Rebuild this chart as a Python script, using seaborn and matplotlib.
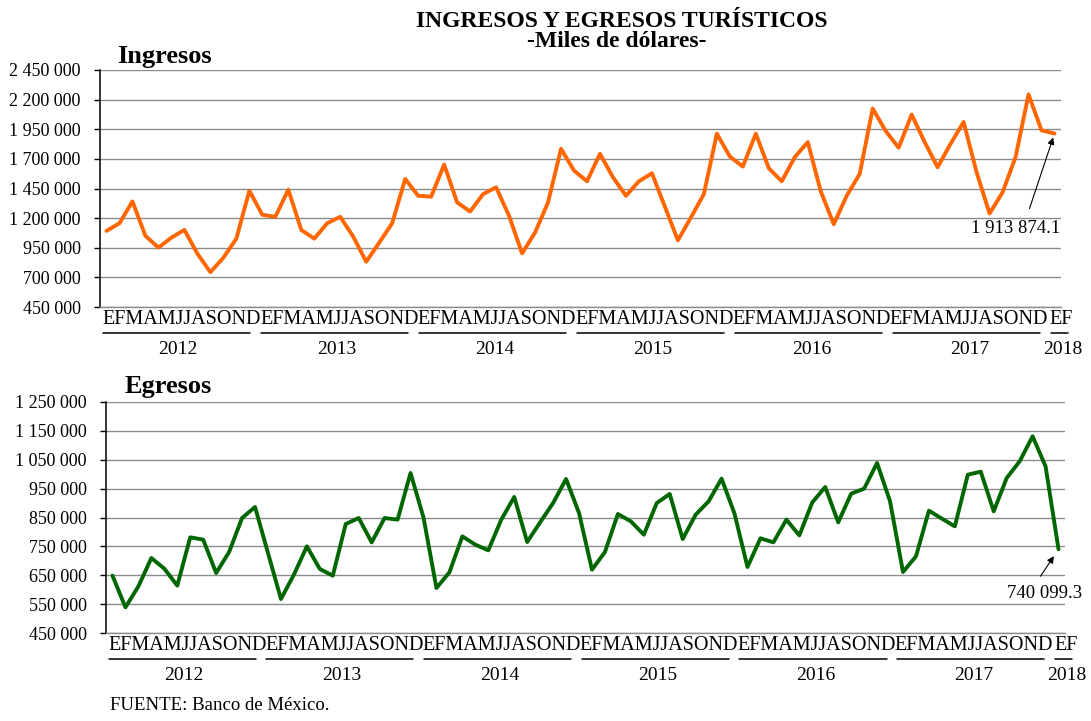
import seaborn as sns
import matplotlib.pyplot as plt
from matplotlib.ticker import FuncFormatter
from matplotlib.transforms import offset_copy, ScaledTranslation

years = ['2012', '2013', '2014', '2015', '2016', '2017', '2018']
month_letters = 'EFMAMJJASOND'

ingresos = [1092000, 1157000, 1341000, 1050000, 951000, 1035500, 1100500, 900000, 744000, 866000, 1027000, 1431500,
            1228000, 1211000, 1440000, 1100500, 1027000, 1157000, 1211000, 1044000, 832000, 993000, 1157000, 1530500,
            1389000, 1381000, 1652000, 1332500, 1256000, 1403000, 1460000, 1219000, 902500, 1078000, 1332500, 1785000,
            1601000, 1511000, 1743000, 1545000, 1389000, 1511000, 1579000, 1296000, 1013000, 1205000, 1403000, 1912500,
            1720000, 1635000, 1912500, 1621000, 1511000, 1714500, 1842000, 1426000, 1148700, 1389000, 1573000, 2124700,
            1935000, 1794000, 2074000, 1842000, 1629600, 1827600, 2011500, 1587000, 1239000, 1417400, 1714500, 2243500,
            1940800, 1913874.1]

egresos = [648600, 538900, 611600, 709700, 672800, 614000, 781300, 773200, 657800, 730500, 848300, 886400,
           727000, 567700, 652000, 750100, 671600, 648600, 827500, 848300, 764000, 848300, 842500, 1004100,
           850000, 605800, 660100, 784800, 755900, 736300, 842500, 921000, 765200, 833300, 900200, 983300,
           865600, 669300, 730500, 862100, 836700, 790500, 900200, 931400, 775500, 859800, 906000, 984500,
           863300, 678600, 777900, 764000, 842500, 788200, 902500, 955600, 833300, 932500, 949900, 1038700,
           906000, 661300, 715500, 873700, 846000, 819400, 998300, 1008700, 871400, 986800, 1044500, 1131100,
           1027200, 740099.3]

ticks_ing = list(range(450000, 2450001, 250000))
ticks_egr = list(range(450000, 1250001, 100000))

sns.set_style('white')
plt.rcParams['font.family'] = ['Liberation Serif', 'DejaVu Serif']
plt.rcParams['text.color'] = 'black'
plt.rcParams['xtick.color'] = 'black'
plt.rcParams['ytick.color'] = 'black'

fig = plt.figure(figsize=(10.91, 7.21), dpi=100)
W, H = 1091, 721


def px_axes(left, top, right, bottom):
    return fig.add_axes([left / W, 1 - bottom / H, (right - left) / W, (bottom - top) / H])


ax1 = px_axes(100, 70, 1061, 307)
ax2 = px_axes(106, 402, 1065, 633)

n = len(ingresos)
x = list(range(n))


def miles(v, pos):
    return '{:,.0f}'.format(v).replace(',', ' ')


def style_axis(ax, yticks, label_offset):
    ax.set_xlim(-0.5, n - 0.5)
    ax.set_ylim(yticks[0], yticks[-1])
    ax.set_yticks(yticks)
    ax.yaxis.set_major_formatter(FuncFormatter(miles))
    ax.grid(axis='y', color='#8c8c8c', lw=1.0)
    ax.set_axisbelow(True)
    for s in ['top', 'right']:
        ax.spines[s].set_visible(False)
    ax.spines['left'].set_color('black')
    ax.spines['left'].set_linewidth(1.1)
    ax.spines['bottom'].set_color('#8c8c8c')
    ax.spines['bottom'].set_linewidth(1.0)
    ax.tick_params(axis='y', direction='out', length=4, width=1, color='black',
                   labelsize=13, pad=10, left=True, labelcolor='black')
    ax.set_xlabel('')
    ax.set_ylabel('')

    # month letters, one block per year (the Excel labels drift a bit to the right)
    centers, labels = [], []
    for k, yr in enumerate(years):
        idx = [i for i in x if i // 12 == k]
        centers.append(sum(idx) / len(idx))
        labels.append(month_letters[:len(idx)])
        drift = 2.2 * k
        ln_tr = offset_copy(ax.get_xaxis_transform(), fig=fig, x=drift, y=-26, units='dots')
        ax.plot([idx[0] - 0.3, idx[-1] + 0.05], [0, 0],
                color='black', lw=1.1, transform=ln_tr, clip_on=False)
        ax.annotate(yr, xy=(centers[-1], 0), xycoords=('data', 'axes fraction'),
                    xytext=(2.5 * k, -label_offset), textcoords='offset pixels',
                    ha='center', va='center', fontsize=14)
    ax.set_xticks(centers)
    ax.set_xticklabels(labels, fontsize=14.5)
    ax.tick_params(axis='x', length=0, pad=2.5, labelcolor='black')
    for k, lab in enumerate(ax.get_xticklabels()):
        shift = 4 + 1.6 * k
        lab.set_transform(lab.get_transform() + ScaledTranslation(shift / 100, 0, fig.dpi_scale_trans))


sns.lineplot(x=x, y=ingresos, ax=ax1, color='#FF6600', lw=2.8)
style_axis(ax1, ticks_ing, 43)
ax1.annotate('', xy=(n - 1, ingresos[-1]), xytext=(-25, -75), textcoords='offset pixels',
             arrowprops=dict(arrowstyle='-|>', color='black', lw=0.8, mutation_scale=10,
                             shrinkA=0, shrinkB=3))
ax1.annotate('1 913 874.1', xy=(n - 1, ingresos[-1]), xytext=(6, -95), textcoords='offset pixels',
             ha='right', va='center', fontsize=13.5)

sns.lineplot(x=x, y=egresos, ax=ax2, color='#006600', lw=2.8)
style_axis(ax2, ticks_egr, 43)
ax2.annotate('', xy=(n - 1, egresos[-1]), xytext=(-18, -27), textcoords='offset pixels',
             arrowprops=dict(arrowstyle='-|>', color='black', lw=0.8, mutation_scale=10,
                             shrinkA=0, shrinkB=6))
ax2.annotate('740 099.3', xy=(n - 1, egresos[-1]), xytext=(24, -44), textcoords='offset pixels',
             ha='right', va='center', fontsize=13.5)

fig.text(621.5 / W, 1 - 26.7 / H, 'INGRESOS Y EGRESOS TURÍSTICOS', ha='center', va='baseline',
         fontsize=17, fontweight='bold')
fig.text(616.7 / W, 1 - 47 / H, '-Miles de dólares-', ha='center', va='baseline',
         fontsize=17, fontweight='bold')
fig.text(117 / W, 1 - 63 / H, 'Ingresos', ha='left', va='baseline', fontsize=19, fontweight='bold')
fig.text(125 / W, 1 - 393 / H, 'Egresos', ha='left', va='baseline', fontsize=19, fontweight='bold')
fig.text(110 / W, 1 - 705 / H, 'FUENTE: Banco de México.', ha='left', va='center', fontsize=13.5)

fig.savefig('out.png', dpi=100)
